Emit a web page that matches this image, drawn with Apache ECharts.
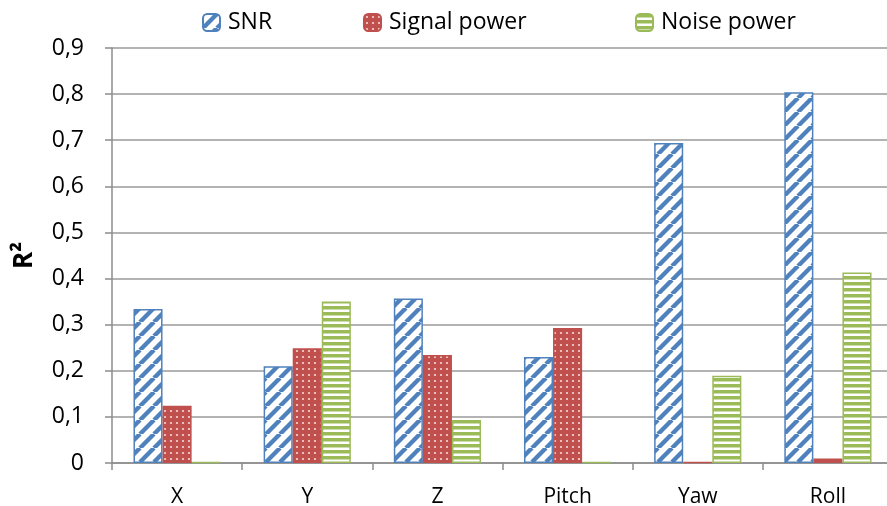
<!DOCTYPE html>
<html>
<head>
<meta charset="utf-8">
<script src="https://cdn.jsdelivr.net/npm/echarts@6/dist/echarts.min.js"></script>
<style>
  html, body { margin: 0; padding: 0; background: #fff; }
  #chart { width: 887px; height: 506px; }
</style>
</head>
<body>
<div id="chart"></div>
<script>
// categories and values
const categories = ['X', 'Y', 'Z', 'Pitch', 'Yaw', 'Roll']
const snr = [0.334, 0.210, 0.357, 0.230, 0.694, 0.804]
const signalPower = [0.124, 0.249, 0.234, 0.293, 0.002, 0.010]
const noisePower = [0.002, 0.350, 0.093, 0.002, 0.189, 0.413]
const seriesNames = ['SNR', 'Signal power', 'Noise power']

const FONT = 'Open Sans'

// fill patterns like the excel ones
function makeTile(size, draw) {
  let c = document.createElement('canvas')
  c.width = size
  c.height = size
  draw(c.getContext('2d'), size)
  return c
}

const stripeTile = makeTile(14, function (ctx, s) {
  ctx.fillStyle = '#ffffff'
  ctx.fillRect(0, 0, s, s)
  ctx.strokeStyle = '#4f81bd'
  ctx.lineWidth = 4.4
  for (let k = -s; k <= s; k += s) {
    ctx.beginPath()
    ctx.moveTo(k, s)
    ctx.lineTo(k + s, 0)
    ctx.stroke()
  }
})

const dotTile = makeTile(6, function (ctx, s) {
  ctx.fillStyle = '#c0504d'
  ctx.fillRect(0, 0, s, s)
  ctx.fillStyle = '#f4d9d8'
  ctx.beginPath()
  ctx.arc(3, 3, 1.1, 0, Math.PI * 2)
  ctx.fill()
})

const hlineTile = makeTile(6, function (ctx, s) {
  ctx.fillStyle = '#ffffff'
  ctx.fillRect(0, 0, s, s)
  ctx.fillStyle = '#9bbb59'
  ctx.fillRect(0, 0, s, 3.5)
})

const fills = [
  { pattern: stripeTile, border: '#4f81bd' },
  { pattern: dotTile, border: '#c0504d' },
  { pattern: hlineTile, border: '#9bbb59' }
]
const values = [snr, signalPower, noisePower]

let chart = echarts.init(document.getElementById('chart'))

function legendAt(name, left) {
  return {
    data: [name],
    top: 11,
    left: left,
    padding: 0,
    itemWidth: 17,
    itemHeight: 17,
    itemGap: 0,
    textStyle: { fontFamily: FONT, fontSize: 23, color: '#000', padding: [0, 0, 0, 3] }
  }
}

chart.setOption({
  animation: false,
  legend: [legendAt('SNR', 202), legendAt('Signal power', 363), legendAt('Noise power', 635)],
  grid: { left: 112, top: 48, width: 781, bottom: 43, outerBoundsMode: 'none' },
  xAxis: {
    type: 'category',
    data: categories,
    axisLine: { lineStyle: { color: '#8c8c8c', width: 1.5 } },
    axisTick: { show: true, length: 7, lineStyle: { color: '#8c8c8c', width: 1.5 } },
    axisLabel: { fontFamily: FONT, fontSize: 21, color: '#000', margin: 24 }
  },
  yAxis: {
    type: 'value',
    min: 0,
    max: 0.9,
    interval: 0.1,
    name: 'R²',
    nameLocation: 'middle',
    nameRotate: 90,
    nameGap: 74,
    nameTextStyle: { fontFamily: FONT, fontSize: 26, fontWeight: 'bold', color: '#000' },
    axisLine: { show: true, lineStyle: { color: '#8c8c8c', width: 1.5 } },
    axisTick: { show: true, length: 7, lineStyle: { color: '#8c8c8c', width: 1.5 } },
    splitLine: { lineStyle: { color: '#9a9a9a', width: 1.5 } },
    axisLabel: {
      fontFamily: FONT,
      fontSize: 23,
      color: '#000',
      margin: 28,
      formatter: function (v) {
        return v === 0 ? '0' : v.toFixed(1).replace('.', ',')
      }
    }
  },
  series: seriesNames.map(function (name, i) {
    return {
      name: name,
      type: 'bar',
      data: values[i],
      barGap: '0%',
      barCategoryGap: '33%',
      itemStyle: {
        color: { image: fills[i].pattern, repeat: 'repeat' },
        borderColor: fills[i].border,
        borderWidth: 1.5
      }
    }
  })
})
</script>
</body>
</html>
